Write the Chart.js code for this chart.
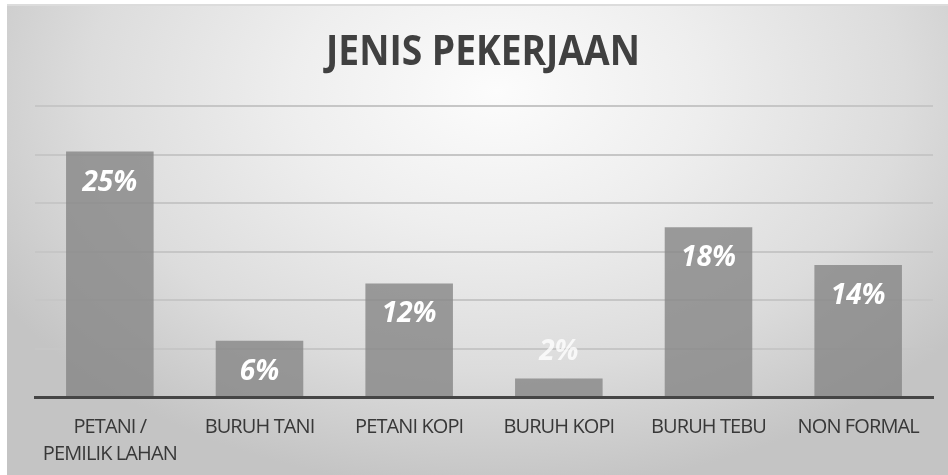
<!DOCTYPE html>
<html>
<head>
<meta charset="utf-8">
<script src="https://cdn.jsdelivr.net/npm/chart.js@4"></script>
<style>
  html, body { margin: 0; padding: 0; background: #ffffff; }
  #wrap { position: relative; width: 948px; height: 475px; overflow: hidden; }
  #bg { position: absolute; left: 7px; top: 4px; width: 941px; height: 471px;
        border-top: 2px solid #dcdcdc;
        background: radial-gradient(ellipse 62% 85% at 52% 18%, #fcfcfc 0%, #eeeeee 35%, #dcdcdc 70%, #c4c4c4 100%); }
  #box { position: absolute; left: 0; top: 0; width: 948px; height: 475px; }
</style>
</head>
<body>
<div id="wrap">
  <div id="bg"></div>
  <div id="box"><canvas id="c"></canvas></div>
</div>
<script>
const titleText = 'JENIS PEKERJAAN';
const categories = [['PETANI /', 'PEMILIK LAHAN'], 'BURUH TANI', 'PETANI KOPI', 'BURUH KOPI', 'BURUH TEBU', 'NON FORMAL'];
const values = [25.3, 5.8, 11.7, 1.9, 17.5, 13.6];
const valueLabels = ['25%', '6%', '12%', '2%', '18%', '14%'];
const yTicks = [0, 5, 10, 15, 20, 25, 30];

// Condensed-looking text: tighten letter spacing while the axes are drawn
const tightTextPlugin = {
  id: 'tightText',
  beforeDraw(chart) { chart.ctx.letterSpacing = '-0.9px'; },
  beforeDatasetsDraw(chart) { chart.ctx.letterSpacing = '0px'; }
};

const titlePlugin = {
  id: 'squeezedTitle',
  afterDraw(chart) {
    const ctx = chart.ctx;
    ctx.save();
    ctx.letterSpacing = '0px';
    ctx.font = 'bold 42px "Open Sans", sans-serif';
    ctx.fillStyle = '#404040';
    ctx.textAlign = 'center';
    ctx.textBaseline = 'alphabetic';
    const w = ctx.measureText(titleText).width;
    const sx = 314 / w;
    ctx.translate(483, 65);
    ctx.scale(sx, 1);
    ctx.fillText(titleText, 0, 0);
    ctx.restore();
  }
};

const dataLabelPlugin = {
  id: 'dataLabelPlugin',
  afterDatasetsDraw(chart) {
    const ctx = chart.ctx;
    const meta = chart.getDatasetMeta(0);
    ctx.save();
    ctx.letterSpacing = '0px';
    ctx.font = 'italic bold 28px "Open Sans", "DejaVu Sans", sans-serif';
    ctx.textAlign = 'center';
    ctx.textBaseline = 'middle';
    meta.data.forEach((bar, i) => {
      const inside = values[i] >= 4;
      if (inside) {
        ctx.fillStyle = '#ffffff';
        ctx.fillText(valueLabels[i], bar.x, bar.y + 31);
      } else {
        ctx.fillStyle = 'rgba(255,255,255,0.78)';
        ctx.fillText(valueLabels[i], bar.x, bar.y - 27);
      }
    });
    ctx.restore();
  }
};

new Chart(document.getElementById('c'), {
  type: 'bar',
  data: {
    labels: categories,
    datasets: [{
      data: values,
      backgroundColor: 'rgba(135,135,135,0.82)',
      borderWidth: 0,
      categoryPercentage: 1,
      barPercentage: 0.585
    }]
  },
  options: {
    responsive: true,
    maintainAspectRatio: false,
    animation: false,
    events: [],
    layout: { padding: { left: 35, right: 15, top: 106, bottom: 0 } },
    plugins: {
      legend: { display: false },
      tooltip: { enabled: false },
      title: { display: false }
    },
    scales: {
      x: {
        afterFit(scale) { scale.height = 78; },
        grid: { display: false, drawTicks: false },
        border: { display: true, color: '#454545', width: 3 },
        ticks: {
          color: '#383838',
          padding: 16,
          maxRotation: 0,
          autoSkip: false,
          font: { family: '"Open Sans", sans-serif', size: 20, lineHeight: 1.38 }
        }
      },
      y: {
        min: yTicks[0],
        max: yTicks[yTicks.length - 1],
        afterBuildTicks(scale) { scale.ticks = yTicks.map(v => ({ value: v })); },
        afterFit(scale) { scale.width = 0; },
        ticks: { display: false },
        border: { display: false },
        grid: {
          drawTicks: false,
          lineWidth: 2,
          color: (c) => c.tick && c.tick.value === 0 ? 'rgba(0,0,0,0)' : '#c6c6c6'
        }
      }
    }
  },
  plugins: [tightTextPlugin, dataLabelPlugin, titlePlugin]
});
</script>
</body>
</html>
